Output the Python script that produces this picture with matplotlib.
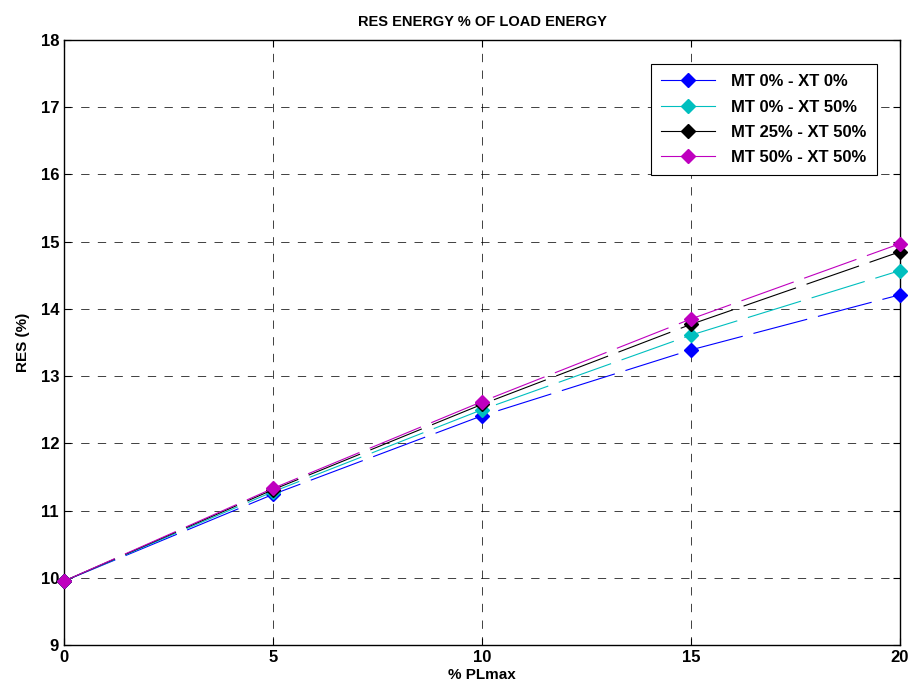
#!/usr/bin/env python3
# plot.py - RES energy % of load energy vs % PLmax
import matplotlib
matplotlib.use('Agg')
import matplotlib.pyplot as plt
from matplotlib.lines import Line2D

plt.rcParams['font.family'] = ['Liberation Sans', 'DejaVu Sans']
plt.rcParams['font.weight'] = 'bold'
plt.rcParams['lines.scale_dashes'] = False

pl_max = [0, 5, 10, 15, 20]
labels = ['MT 0% - XT 0%', 'MT 0% - XT 50%', 'MT 25% - XT 50%', 'MT 50% - XT 50%']
res_mt0_xt0 = [9.95, 11.24, 12.41, 13.39, 14.21]
res_mt0_xt50 = [9.95, 11.28, 12.50, 13.61, 14.57]
res_mt25_xt50 = [9.95, 11.31, 12.58, 13.77, 14.85]
res_mt50_xt50 = [9.95, 11.33, 12.62, 13.85, 14.97]
colors = ['#0000ff', '#00bfbf', '#000000', '#bf00bf']

fig = plt.figure(figsize=(9.1, 6.89), dpi=100)
ax = fig.add_axes([0.0703, 0.0639, 0.9187, 0.878])

series = [res_mt0_xt0, res_mt0_xt50, res_mt25_xt50, res_mt50_xt50]
for vals, c in zip(series, colors):
    ax.plot(pl_max, vals, color=c, lw=0.8, dashes=(40, 8),
            marker='D', ms=7, mfc=c, mec=c, clip_on=False, zorder=3)

ax.set_xlim(0, 20)
ax.set_ylim(9, 18)
ax.set_xticks([0, 5, 10, 15, 20])
ax.set_yticks(range(9, 19))
ax.tick_params(direction='in', top=True, right=True, labelsize=12, length=5, width=0.8)
for lab in ax.get_xticklabels() + ax.get_yticklabels():
    lab.set_fontweight('bold')
ax.grid(True, color='black', linestyle=(0, (6, 6)), lw=0.7, alpha=0.75)
for s in ax.spines.values():
    s.set_linewidth(1.0)

ax.set_title('RES ENERGY % OF LOAD ENERGY', fontsize=10.5, fontweight='bold', pad=10)
ax.set_xlabel('% PLmax', fontsize=11, fontweight='bold', labelpad=2)
ax.set_ylabel('RES (%)', fontsize=11, fontweight='bold', labelpad=8)

handles = [Line2D([0], [0], color=c, lw=0.8, marker='D', ms=7, mfc=c, mec=c)
           for c in colors]
leg = ax.legend(handles, labels, loc='upper right', bbox_to_anchor=(0.972, 0.96),
                borderaxespad=0,
                prop={'weight': 'bold', 'size': 12}, fancybox=False,
                edgecolor='black', framealpha=1, borderpad=0.6, labelspacing=0.62,
                handlelength=3.2, handletextpad=1.0)
leg.get_frame().set_linewidth(0.8)

fig.savefig('out.png', dpi=100)
